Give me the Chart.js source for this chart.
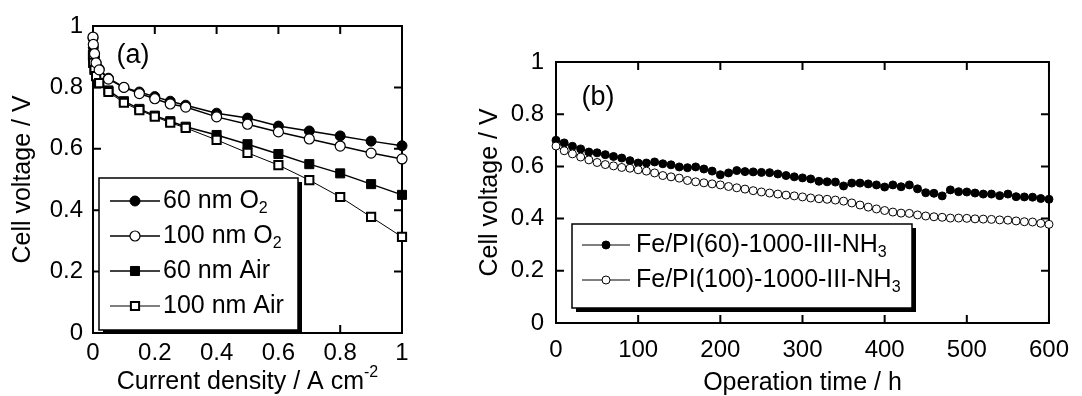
<!DOCTYPE html>
<html>
<head>
<meta charset="utf-8">
<script src="https://cdn.jsdelivr.net/npm/chart.js@4.4.0/dist/chart.umd.min.js"></script>
<style>
  html, body { margin: 0; padding: 0; background: #fff; }
  #wrapA { position: absolute; left: 0; top: 0; width: 430px; height: 396px; }
  #wrapB { position: absolute; left: 470px; top: 0; width: 612px; height: 396px; }
</style>
</head>
<body>
<div id="wrapA"><canvas id="chartA" width="430" height="396"></canvas></div>
<div id="wrapB"><canvas id="chartB" width="612" height="396"></canvas></div>
<script>
// ---- (a) polarization curves ----
const currentDensity = [0, 0.001, 0.005, 0.01, 0.02, 0.05, 0.1, 0.15, 0.2, 0.25, 0.3, 0.4, 0.5, 0.6, 0.7, 0.8, 0.9, 1.0];
const o2_60nm   = [0.96, 0.93, 0.90, 0.88, 0.86, 0.83, 0.80, 0.785, 0.77, 0.755, 0.742, 0.716, 0.70, 0.674, 0.658, 0.642, 0.625, 0.61];
const o2_100nm  = [0.964, 0.94, 0.91, 0.88, 0.857, 0.827, 0.80, 0.78, 0.763, 0.746, 0.736, 0.704, 0.68, 0.655, 0.632, 0.609, 0.586, 0.567];
const air_60nm  = [0.90, 0.88, 0.86, 0.84, 0.815, 0.79, 0.755, 0.73, 0.708, 0.69, 0.672, 0.645, 0.615, 0.583, 0.55, 0.52, 0.485, 0.45];
const air_100nm = [0.905, 0.88, 0.857, 0.837, 0.814, 0.785, 0.75, 0.726, 0.705, 0.685, 0.668, 0.629, 0.587, 0.547, 0.498, 0.443, 0.378, 0.313];

// ---- (b) durability test ----
const operationTime = [0, 10, 20, 30, 40, 50, 60, 70, 80, 90, 100, 110, 120, 130, 140, 150, 160, 170, 180, 190,
  200, 210, 220, 230, 240, 250, 260, 270, 280, 290, 300, 310, 320, 330, 340, 350, 360, 370, 380, 390,
  400, 410, 420, 430, 440, 450, 460, 470, 480, 490, 500, 510, 520, 530, 540, 550, 560, 570, 580, 590, 600];
const fePI60 = [0.70, 0.69, 0.677, 0.667, 0.655, 0.652, 0.645, 0.638, 0.632, 0.622,
  0.613, 0.613, 0.617, 0.61, 0.606, 0.598, 0.595, 0.598, 0.59, 0.582,
  0.568, 0.575, 0.584, 0.58, 0.579, 0.577, 0.576, 0.571, 0.565, 0.56,
  0.556, 0.552, 0.543, 0.541, 0.54, 0.525, 0.536, 0.536, 0.533, 0.529,
  0.521, 0.529, 0.522, 0.529, 0.514, 0.499, 0.497, 0.487, 0.51, 0.503,
  0.502, 0.498, 0.494, 0.494, 0.488, 0.494, 0.484, 0.483, 0.482, 0.477, 0.474];
const fePI100 = [0.678, 0.66, 0.648, 0.636, 0.625, 0.615, 0.607, 0.602, 0.596, 0.593,
  0.587, 0.582, 0.575, 0.565, 0.56, 0.555, 0.546, 0.541, 0.537, 0.533,
  0.529, 0.523, 0.518, 0.513, 0.507, 0.502, 0.498, 0.494, 0.49, 0.487,
  0.483, 0.479, 0.476, 0.474, 0.471, 0.467, 0.46, 0.452, 0.444, 0.437,
  0.431, 0.425, 0.421, 0.42, 0.414, 0.41, 0.407, 0.405, 0.402, 0.402,
  0.401, 0.399, 0.398, 0.397, 0.395, 0.394, 0.391, 0.388, 0.387, 0.382, 0.378];

const FONT = '"Liberation Sans", Arial, Helvetica, sans-serif';
Chart.defaults.font.family = FONT;
Chart.defaults.color = '#000';

const pts = (xs, ys) => xs.map((x, i) => ({ x: x, y: ys[i] }));

// text with _{sub} and ^{sup} parts
function drawRich(ctx, text, x, y, size, align) {
  const parts = [];
  const re = /([_^])\{([^}]*)\}/g;
  let last = 0, m;
  while ((m = re.exec(text))) {
    if (m.index > last) parts.push({ t: text.slice(last, m.index), k: '' });
    parts.push({ t: m[2], k: m[1] });
    last = re.lastIndex;
  }
  if (last < text.length) parts.push({ t: text.slice(last), k: '' });
  const fontFor = k => (k ? Math.round(size * 0.62) : size) + 'px ' + FONT;
  let w = 0;
  parts.forEach(p => { ctx.font = fontFor(p.k); p.w = ctx.measureText(p.t).width; w += p.w; });
  let cx = align === 'center' ? x - w / 2 : x;
  ctx.textAlign = 'left';
  ctx.textBaseline = 'middle';
  parts.forEach(p => {
    ctx.font = fontFor(p.k);
    const dy = p.k === '_' ? size * 0.32 : (p.k === '^' ? -size * 0.36 : 0);
    ctx.fillText(p.t, cx, y + dy);
    cx += p.w;
  });
}

function drawMarker(ctx, style, r, x, y) {
  ctx.beginPath();
  if (style === 'rect') {
    const s = r * Math.SQRT1_2;
    ctx.rect(x - s, y - s, 2 * s, 2 * s);
  } else {
    ctx.arc(x, y, r, 0, Math.PI * 2);
  }
  ctx.fill();
  ctx.stroke();
}

const decor = {
  id: 'decor',
  beforeDatasetsDraw(chart, args, opts) {
    const { ctx, chartArea: a, scales: { x, y } } = chart;
    ctx.save();
    ctx.strokeStyle = '#000';
    ctx.lineWidth = 2;
    ctx.strokeRect(a.left, a.top, a.right - a.left, a.bottom - a.top);
    ctx.beginPath();
    x.ticks.forEach(t => {
      const px = x.getPixelForValue(t.value);
      ctx.moveTo(px, a.bottom); ctx.lineTo(px, a.bottom - opts.tickLen);
      ctx.moveTo(px, a.top); ctx.lineTo(px, a.top + opts.tickLen);
    });
    y.ticks.forEach(t => {
      const py = y.getPixelForValue(t.value);
      ctx.moveTo(a.left, py); ctx.lineTo(a.left + opts.tickLen, py);
      ctx.moveTo(a.right, py); ctx.lineTo(a.right - opts.tickLen, py);
    });
    ctx.stroke();
    ctx.restore();
  },
  afterDraw(chart, args, opts) {
    const { ctx, chartArea: a } = chart;
    ctx.save();
    ctx.fillStyle = '#000';
    // axis titles
    drawRich(ctx, opts.xTitle, (a.left + a.right) / 2, a.bottom + opts.xTitleGap, opts.titleSize, 'center');
    ctx.save();
    ctx.translate(opts.yTitleX, (a.top + a.bottom) / 2);
    ctx.rotate(-Math.PI / 2);
    drawRich(ctx, opts.yTitle, 0, 0, opts.titleSize, 'center');
    ctx.restore();
    // panel tag
    ctx.font = opts.panelSize + 'px ' + FONT;
    ctx.textAlign = 'center';
    ctx.textBaseline = 'middle';
    ctx.fillText(opts.panel, a.left + opts.panelX, a.top + opts.panelY);
    // legend box with drop shadow
    const lg = opts.legend;
    const bx = a.left + lg.x, by = a.top + lg.y;
    ctx.fillStyle = '#000';
    ctx.fillRect(bx + lg.shadow, by + lg.shadow, lg.w, lg.h);
    ctx.fillStyle = '#fff';
    ctx.fillRect(bx, by, lg.w, lg.h);
    ctx.strokeStyle = '#000';
    ctx.lineWidth = 1.5;
    ctx.strokeRect(bx, by, lg.w, lg.h);
    chart.data.datasets.forEach((ds, i) => {
      const ry = by + lg.firstRow + i * lg.rowGap;
      ctx.strokeStyle = '#000';
      ctx.lineWidth = ds.borderWidth;
      ctx.beginPath();
      ctx.moveTo(bx + lg.lineFrom, ry);
      ctx.lineTo(bx + lg.lineTo, ry);
      ctx.stroke();
      ctx.fillStyle = ds.pointBackgroundColor;
      ctx.lineWidth = ds.pointBorderWidth;
      drawMarker(ctx, ds.pointStyle, lg.markerRadius || ds.pointRadius, bx + lg.marker, ry);
      ctx.fillStyle = '#000';
      drawRich(ctx, ds.label, bx + lg.textX, ry, lg.size, 'left');
    });
    ctx.restore();
  }
};

function series(label, xs, ys, style, filled, r, bw, lw, order) {
  return {
    label: label,
    data: pts(xs, ys),
    borderColor: '#000',
    borderWidth: lw,
    pointStyle: style,
    pointRadius: r,
    pointHoverRadius: r,
    pointBackgroundColor: filled ? '#000' : '#fff',
    pointBorderColor: '#000',
    pointBorderWidth: bw,
    tension: 0,
    fill: false,
    clip: false,
    order: order
  };
}

// "1" rather than "1.0", "0.2" etc.
const plainNum = v => String(Number(v.toFixed(3)));

function axis(min, max, step, pad, fit) {
  return {
    type: 'linear', min: min, max: max,
    ticks: { stepSize: step, padding: pad, autoSkip: false, maxRotation: 0, color: '#000',
             font: { size: 24 }, callback: plainNum },
    grid: { display: false, drawTicks: false },
    border: { display: false },
    afterFit: fit
  };
}

new Chart(document.getElementById('chartA'), {
  type: 'line',
  data: {
    datasets: [
      series('60 nm O_{2}', currentDensity, o2_60nm, 'circle', true, 5, 1, 1.5, 1),
      series('100 nm O_{2}', currentDensity, o2_100nm, 'circle', false, 5, 1.2, 1.5, 0),
      series('60 nm Air', currentDensity, air_60nm, 'rect', true, 6.4, 1, 1.5, 1),
      series('100 nm Air', currentDensity, air_100nm, 'rect', false, 5.8, 2, 1, 0)
    ]
  },
  options: {
    responsive: false,
    animation: false,
    devicePixelRatio: 1,
    layout: { padding: { top: 26, right: 28, left: 0, bottom: 0 } },
    scales: {
      x: axis(0, 1, 0.2, 6, s => { s.height = 63; }),
      y: axis(0, 1, 0.2, 10, s => { s.width = 93; })
    },
    plugins: {
      legend: { display: false },
      tooltip: { enabled: false },
      decor: {
        tickLen: 8,
        xTitle: 'Current density / A cm^{-2}', xTitleGap: 49,
        yTitle: 'Cell voltage / V', yTitleX: 23,
        titleSize: 25,
        panel: '(a)', panelX: 40, panelY: 30, panelSize: 27,
        legend: { x: 6, y: 152, w: 199, h: 152, shadow: 4, firstRow: 23, rowGap: 35,
                  lineFrom: 11, lineTo: 61, marker: 36, textX: 64, size: 25 }
      }
    }
  },
  plugins: [decor]
});

new Chart(document.getElementById('chartB'), {
  type: 'line',
  data: {
    datasets: [
      series('Fe/PI(60)-1000-III-NH_{3}', operationTime, fePI60, 'circle', true, 4, 1, 1, 1),
      series('Fe/PI(100)-1000-III-NH_{3}', operationTime, fePI100, 'circle', false, 4, 1, 1, 0)
    ]
  },
  options: {
    responsive: false,
    animation: false,
    devicePixelRatio: 1,
    layout: { padding: { top: 62, right: 23, left: 0, bottom: 0 } },
    scales: {
      x: axis(0, 600, 100, 13, s => { s.height = 73; }),
      y: axis(0, 1, 0.2, 12, s => { s.width = 86; })
    },
    plugins: {
      legend: { display: false },
      tooltip: { enabled: false },
      decor: {
        tickLen: 8,
        xTitle: 'Operation time / h', xTitleGap: 60,
        yTitle: 'Cell voltage / V', yTitleX: 20,
        titleSize: 25,
        panel: '(b)', panelX: 42, panelY: 36, panelSize: 27,
        legend: { x: 16, y: 162, w: 340, h: 84, shadow: 4, firstRow: 21, rowGap: 35,
                  lineFrom: 10, lineTo: 58, marker: 34, markerRadius: 4, textX: 64, size: 25 }
      }
    }
  },
  plugins: [decor]
});
</script>
</body>
</html>
